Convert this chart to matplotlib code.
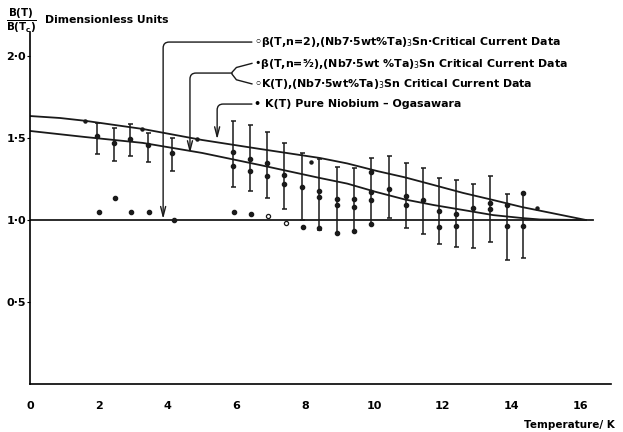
import numpy as np
import matplotlib
matplotlib.use("Agg")
import matplotlib.pyplot as plt

# theory curves
upper_T = [0, 0.87, 1.6, 3.28, 5.0, 6.69, 8.43, 9.22, 10.1, 10.9, 11.74, 12.59, 13.46, 14.3, 15.15, 16.16]
upper_v = [1.634, 1.622, 1.605, 1.555, 1.488, 1.433, 1.378, 1.345, 1.298, 1.260, 1.213, 1.165, 1.122, 1.079, 1.043, 1.0]
lower_T = [0, 1.6, 3.28, 5.0, 6.69, 8.43, 9.22, 10.06, 10.9, 11.74, 12.59, 13.46, 14.3, 14.83, 16.16]
lower_v = [1.543, 1.506, 1.470, 1.409, 1.335, 1.256, 1.222, 1.171, 1.125, 1.091, 1.061, 1.030, 1.012, 1.003, 1.0]

# critical current data: error bar columns
col_T = [1.94, 2.44, 2.92, 3.43, 4.14, 5.89, 6.40, 6.88, 7.39, 7.90, 8.41, 8.92,
         9.43, 9.92, 10.44, 10.94, 11.42, 11.90, 12.38, 12.87, 13.37, 13.86, 14.34]
col_hi = [1.593, 1.559, 1.585, 1.532, 1.498, 1.605, 1.579, 1.535, 1.468, 1.411, 1.370, 1.325,
          1.315, 1.376, 1.390, 1.346, 1.315, 1.258, 1.244, 1.218, 1.268, 1.159, 1.163]
col_lo = [1.402, 1.362, 1.392, 1.354, 1.301, 1.203, 1.177, 1.136, 1.065, 1.0, 0.939, 0.919,
          0.933, 0.974, 1.01, 0.949, 0.913, 0.854, 0.837, 0.831, 0.864, 0.756, 0.766]
col_marks = [[1.512], [1.468], [1.492], [1.457], [1.407], [1.413, 1.331], [1.372, 1.301],
             [1.346, 1.268], [1.274, 1.218], [1.203], [1.179, 1.138, 0.949], [1.128, 1.091, 0.919],
             [1.128, 1.077, 0.933], [1.295, 1.169, 1.122, 0.974], [1.189], [1.146, 1.091], [1.122],
             [1.057, 0.955], [1.035, 0.963], [1.071], [1.105, 1.065], [1.091, 0.963], [1.163, 0.963]]

# pure niobium points and the loose ones
nb_T = [2.0, 2.47, 2.94, 3.46, 4.19, 5.94, 6.42, 7.95]
nb_v = [1.051, 1.134, 1.051, 1.051, 1.0, 1.046, 1.035, 0.959]
open_T = [6.93, 7.43]
open_v = [1.024, 0.984]
up_T = [1.6, 3.25, 4.85, 8.16, 14.73]
up_v = [1.604, 1.555, 1.494, 1.355, 1.071]

xticks = [0, 2, 4, 6, 8, 10, 12, 14, 16]
yticks = [0.5, 1.0, 1.5, 2.0]
ylabels = ["0·5", "1·0", "1·5", "2·0"]

legend_lines = ["◦β(T,n=2),(Nb7·5wt%Ta)$_3$Sn·Critical Current Data",
                "•β(T,n=⁵⁄₂),(Nb7·5wt %Ta)$_3$Sn Critical Current Data",
                "◦K(T),(Nb7·5wt%Ta)$_3$Sn Critical Current Data",
                "• K(T) Pure Niobium – Ogasawara"]

k = "#1a1a1a"
fig = plt.figure(figsize=(6.23, 4.32), dpi=100)
ax = fig.add_axes([30 / 623, 48 / 432, 591.7 / 623, 360.8 / 432])
ax.set_xlim(0, 17.2)
ax.set_ylim(0, 2.2)

ax.plot(upper_T, upper_v, color=k, lw=1.3)
ax.plot(lower_T, lower_v, color=k, lw=1.3)
ax.plot([0, 16.37], [1.0, 1.0], color=k, lw=1.3)

mid = [(a + b) / 2 for a, b in zip(col_lo, col_hi)]
ax.errorbar(col_T, mid, yerr=[np.subtract(mid, col_lo), np.subtract(col_hi, mid)],
            fmt="none", ecolor=k, elinewidth=1.1, capsize=1.8, capthick=1.1)
for t, ms in zip(col_T, col_marks):
    ax.plot([t] * len(ms), ms, "o", color=k, ms=3)

ax.plot(nb_T, nb_v, "o", color=k, ms=3)
ax.plot(open_T, open_v, "o", mfc="white", mec=k, ms=3, mew=0.9)
ax.plot(up_T, up_v, "o", color=k, ms=2.2)

# axes
for s in ["top", "right"]:
    ax.spines[s].set_visible(False)
ax.spines["left"].set_bounds(0, 2.146)
ax.spines["bottom"].set_bounds(0, 16.9)
ax.spines["left"].set_linewidth(1.2)
ax.spines["bottom"].set_linewidth(1.2)
ax.set_xticks(xticks)
ax.set_xticklabels([str(x) for x in xticks])
ax.set_yticks(yticks)
ax.set_yticklabels(ylabels)
ax.tick_params(axis="x", length=0, pad=12, labelsize=8)
ax.tick_params(axis="y", length=2, pad=1, labelsize=8)
for lb in ax.get_xticklabels() + ax.get_yticklabels():
    lb.set_fontweight("bold")

ax.text(16.99, -0.25, "Temperature/ K", ha="right", va="center", fontsize=7.5, fontweight="bold")
ax.text(-0.25, 2.215, r"$\frac{\mathbf{B(T)}}{\mathbf{B(T_c)}}$", ha="center", va="center", fontsize=10.5)
ax.text(0.43, 2.22, "Dimensionless Units", ha="left", va="center", fontsize=7.8, fontweight="bold")

# labels with leader arrows
ly = [2.085, 1.95, 1.83, 1.707]
for txt, y in zip(legend_lines, ly):
    ax.text(6.5, y, txt, ha="left", va="center", fontsize=7.9, fontweight="bold")

arr = dict(arrowstyle="->,head_length=0.7,head_width=0.18", color=k, lw=1.0,
           shrinkA=0, shrinkB=0, connectionstyle="angle,angleA=0,angleB=90,rad=6")
ax.annotate("", xy=(3.87, 1.006), xytext=(6.45, 2.085), arrowprops=arr)
ax.annotate("", xy=(4.65, 1.407), xytext=(5.87, 1.896), arrowprops=arr)
ax.annotate("", xy=(5.44, 1.492), xytext=(6.45, 1.707), arrowprops=arr)
# brace joining the two middle labels
ax.plot([6.45, 6.0, 5.87, 5.87, 6.0, 6.45], [1.955, 1.93, 1.9, 1.89, 1.855, 1.83], color=k, lw=1.0)

fig.savefig("out.png", dpi=100)
